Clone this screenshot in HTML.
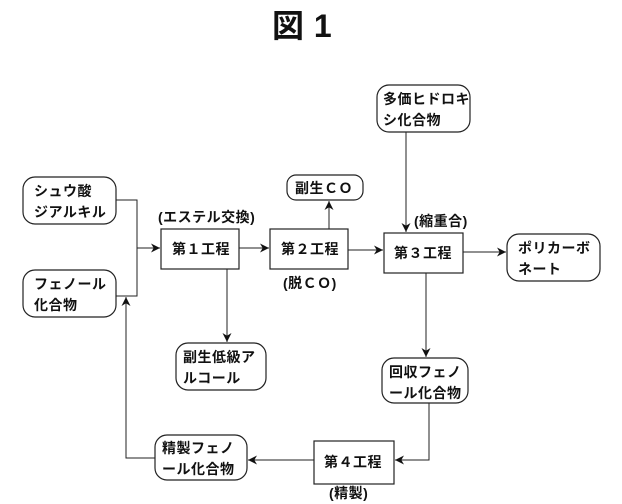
<!DOCTYPE html>
<html><head><meta charset="utf-8"><style>
html,body{margin:0;padding:0;background:#fff;}
svg{display:block;}
text{font-family:"Liberation Sans","Noto Sans CJK JP",sans-serif;font-size:14px;letter-spacing:0.5px;font-weight:bold;fill:#111;}
.b{fill:none;stroke:#222;stroke-width:1.2;}
.l{fill:none;stroke:#222;stroke-width:1;}
</style></head><body>
<svg width="622" height="504" viewBox="0 0 622 504" xmlns="http://www.w3.org/2000/svg">
<defs><marker id="a" viewBox="0 0 10 10" refX="10" refY="5" markerWidth="9" markerHeight="9" orient="auto"><path d="M0,0 L10,5 L0,10 L3,5 z" fill="#111"/></marker></defs>
<text x="272" y="37" style="font-size:32px;font-weight:bold">図 1</text>

<rect class="b" x="23" y="177" width="93" height="47" rx="12"/>
<text x="34" y="196">シュウ酸</text><text x="34" y="217">ジアルキル</text>
<rect class="b" x="23" y="270" width="93" height="47" rx="12"/>
<text x="34" y="289">フェノール</text><text x="34" y="310">化合物</text>

<text x="158" y="222">(エステル交換)</text>
<rect class="b" x="161" y="229" width="78" height="40"/>
<text x="172" y="254">第１工程</text>
<rect class="b" x="270" y="229" width="78" height="40"/>
<text x="281" y="254">第２工程</text>
<text x="283" y="288">(脱ＣＯ)</text>
<rect class="b" x="287" y="175" width="76" height="25" rx="9"/>
<text x="295" y="193">副生ＣＯ</text>

<rect class="b" x="377" y="85" width="93" height="47" rx="12"/>
<text x="383" y="104">多価ヒドロキ</text><text x="383" y="125">シ化合物</text>
<text x="414" y="226">(縮重合)</text>
<rect class="b" x="384" y="233" width="79" height="40"/>
<text x="394" y="258">第３工程</text>
<rect class="b" x="507" y="234" width="93" height="47" rx="12"/>
<text x="518" y="253">ポリカーボ</text><text x="518" y="274">ネート</text>

<rect class="b" x="176" y="343" width="90" height="47" rx="12"/>
<text x="183" y="362">副生低級ア</text><text x="183" y="383">ルコール</text>
<rect class="b" x="382" y="358" width="86" height="45" rx="12"/>
<text x="389" y="377">回収フェノ</text><text x="389" y="398">ール化合物</text>
<rect class="b" x="155" y="435" width="92" height="45" rx="12"/>
<text x="162" y="453">精製フェノ</text><text x="162" y="474">ール化合物</text>
<rect class="b" x="314" y="441" width="80" height="43"/>
<text x="324" y="467">第４工程</text>
<text x="329" y="498">(精製)</text>

<path class="l" d="M116,200 H137 V296 H116"/>
<line class="l" x1="137" y1="248" x2="160" y2="248" marker-end="url(#a)"/>
<line class="l" x1="239" y1="248" x2="269" y2="248" marker-end="url(#a)"/>
<line class="l" x1="348" y1="250" x2="383" y2="250" marker-end="url(#a)"/>
<line class="l" x1="329" y1="229" x2="329" y2="201" marker-end="url(#a)"/>
<line class="l" x1="406" y1="132" x2="406" y2="232" marker-end="url(#a)"/>
<line class="l" x1="463" y1="252" x2="506" y2="252" marker-end="url(#a)"/>
<line class="l" x1="426" y1="273" x2="426" y2="357" marker-end="url(#a)"/>
<line class="l" x1="227" y1="269" x2="227" y2="342" marker-end="url(#a)"/>
<path class="l" d="M429,403 V460 H395" marker-end="url(#a)"/>
<line class="l" x1="314" y1="460" x2="248" y2="460" marker-end="url(#a)"/>
<path class="l" d="M155,458 H126 V297" marker-end="url(#a)"/>
</svg>
</body></html>
